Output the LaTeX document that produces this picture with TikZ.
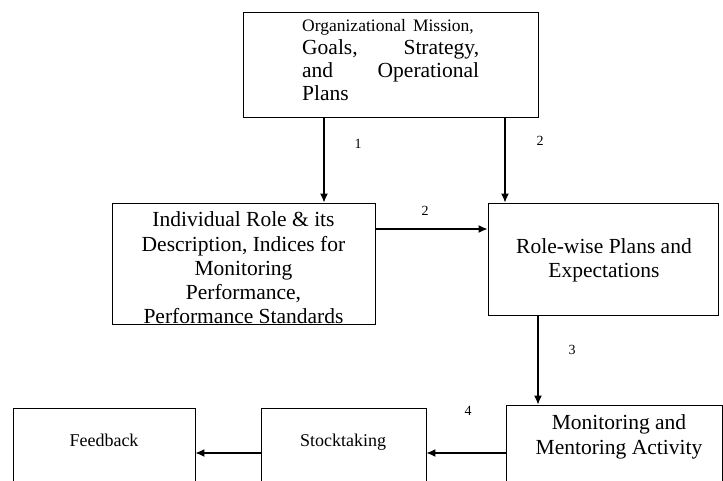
\documentclass[tikz,border=0pt]{standalone}
\usepackage{fontspec}
\setmainfont{Liberation Serif}
\usetikzlibrary{arrows.meta}
\begin{document}
\begin{tikzpicture}[x=1pt,y=-1pt,
  box/.style={draw,line width=0.9pt,rectangle,inner sep=0pt},
  txt/.style={inner sep=0pt,align=center,font=\fontsize{21.5}{24.3}\selectfont},
  small/.style={inner sep=0pt,font=\fontsize{18}{20}\selectfont},
  num/.style={inner sep=0pt,font=\fontsize{14}{16}\selectfont},
  arr/.style={line width=1.3pt,-{Latex[length=9pt,width=8pt]}}]
\useasboundingbox (0,0) rectangle (723,480);
\clip (0,0) rectangle (723,480);

% boxes
\node[box,minimum width=295pt,minimum height=105pt] (top) at (390.5,64.5) {};
\node[box,minimum width=263pt,minimum height=121pt] (role) at (243.5,263.5) {};
\node[box,minimum width=230pt,minimum height=112pt] (plans) at (603,259) {};
\node[box,minimum width=216pt,minimum height=100pt] (mon) at (614,455) {};
\node[box,minimum width=165pt,minimum height=100pt] (stock) at (343.5,458) {};
\node[box,minimum width=182pt,minimum height=100pt] (feed) at (104,458) {};

% texts
\node[inner sep=0pt,text width=177pt,align=left,anchor=north west,
      font=\fontsize{21.5}{23}\selectfont] (toptxt) at (302,19)
  {{\fontsize{17.5}{23}\selectfont Organizational Mission,}\\
   Goals,\hfill Strategy,\\
   and\hfill Operational\\
   Plans};
\node[txt] (roletxt) at (243.5,268) {Individual Role \& its\\Description, Indices for\\Monitoring\\Performance,\\Performance Standards};
\node[txt] (planstxt) at (604,260) {Role-wise Plans and\\Expectations};
\node[txt] (montxt) at (619,437) {Monitoring and\\Mentoring Activity};
\node[small] (stocktxt) at (343,442) {Stocktaking};
\node[small] (feedtxt) at (104,440) {Feedback};

% connectors
\coordinate (xa) at (324,0);
\coordinate (xb) at (505,0);
\coordinate (xc) at (538,0);
\coordinate (ya) at (0,229);
\coordinate (yb) at (0,453);
\draw[arr] (top.south -| xa) -- (role.north -| xa);
\draw[arr] (top.south -| xb) -- (plans.north -| xb);
\draw[arr] (role.east |- ya) -- (plans.west |- ya);
\draw[arr] (plans.south -| xc) -- (mon.north -| xc);
\draw[arr] (mon.west |- yb) -- (stock.east |- yb);
\draw[arr] (stock.west |- yb) -- (feed.east |- yb);

% step numbers
\node[num] (n1) at (358,144) {1};
\node[num] (n2a) at (540,141) {2};
\node[num] (n2b) at (425,211) {2};
\node[num] (n3) at (572,350) {3};
\node[num] (n4) at (468,411) {4};
\end{tikzpicture}
\end{document}
